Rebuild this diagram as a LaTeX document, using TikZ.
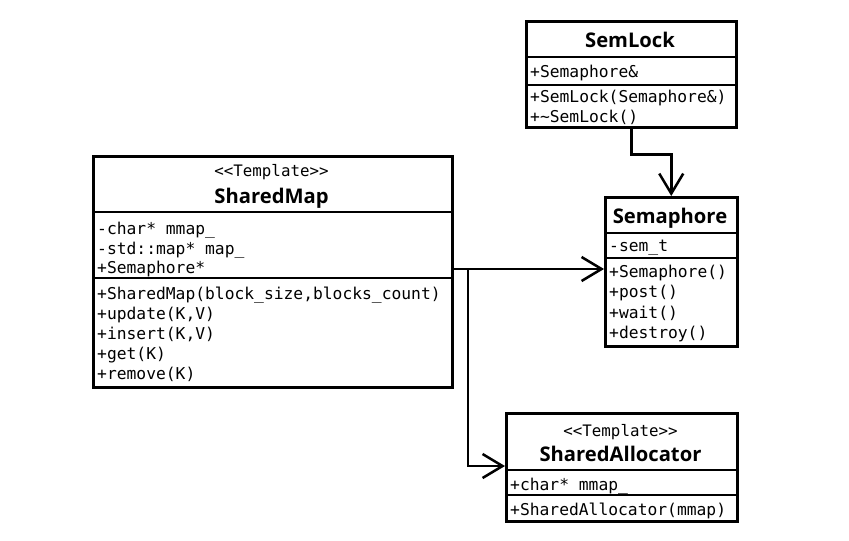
\documentclass[tikz,border=0pt]{standalone}
\usepackage{fontspec}
\setmainfont{Open Sans}
\newfontfamily\monof{DejaVu Sans Mono}
\newfontfamily\ttlf{Open Sans}
\usetikzlibrary{arrows.meta}
\tikzset{
  box/.style={draw, line width=2.5pt, rectangle, inner sep=0pt, anchor=north west},
  divider/.style={line width=2.5pt},
  mem/.style={anchor=base west, inner sep=0pt, font=\monof\fontsize{16.3}{18}\selectfont},
  ttl/.style={anchor=base, inner sep=0pt, font=\ttlf\bfseries\fontsize{20.2}{22}\selectfont},
  stereo/.style={anchor=base, inner sep=0pt, font=\monof\fontsize{15.8}{18}\selectfont},
  conn/.style={line width=2.5pt},
  arr/.style={line width=2.5pt, -{Straight Barb[length=20pt,width=24pt,line width=2.5pt]}},
}
\begin{document}
\begin{tikzpicture}[x=1pt,y=-1pt]
\useasboundingbox[fill=white] (0,0) rectangle (849,541);

% SemLock
\node[box, minimum width=210pt, minimum height=106pt] (semlock) at (525,20) {};
\draw[divider] (semlock.west |- 0,57) -- (semlock.east |- 0,57);
\draw[divider] (semlock.west |- 0,85) -- (semlock.east |- 0,85);
\node[ttl] (semlockT) at (630,47) {SemLock};
\node[mem] (semlockA) at (530,77) {+Semaphore\&};
\node[mem] (semlockM1) at (530,102) {+SemLock(Semaphore\&)};
\node[mem] (semlockM2) at (530,122) {+\textasciitilde SemLock()};

% Semaphore
\node[box, minimum width=132pt, minimum height=149pt] (semaphore) at (604,196) {};
\draw[divider] (semaphore.west |- 0,233) -- (semaphore.east |- 0,233);
\draw[divider] (semaphore.west |- 0,258) -- (semaphore.east |- 0,258);
\node[ttl] (semaphoreT) at (670,223) {Semaphore};
\node[mem] (semaphoreA) at (609,251) {-sem\_t};
\node[mem] (semaphoreM1) at (609,277) {+Semaphore()};
\node[mem] (semaphoreM2) at (609,297.5) {+post()};
\node[mem] (semaphoreM3) at (609,318) {+wait()};
\node[mem] (semaphoreM4) at (609,338) {+destroy()};

% SharedMap
\node[box, minimum width=359pt, minimum height=231pt] (sharedmap) at (92,155) {};
\draw[divider] (sharedmap.west |- 0,212) -- (sharedmap.east |- 0,212);
\draw[divider] (sharedmap.west |- 0,278) -- (sharedmap.east |- 0,278);
\node[stereo] (sharedmapS) at (271.5,176) {<\kern0pt<Template>\kern0pt>};
\node[ttl] (sharedmapT) at (271.5,203) {SharedMap};
\node[mem] (sharedmapA1) at (97,234) {-char* mmap\_};
\node[mem] (sharedmapA2) at (97,254) {-std::map* map\_};
\node[mem] (sharedmapA3) at (97,273) {+Semaphore*};
\node[mem] (sharedmapM1) at (97,299) {+SharedMap(block\_size,blocks\_count)};
\node[mem] (sharedmapM2) at (97,319) {+update(K,V)};
\node[mem] (sharedmapM3) at (97,339) {+insert(K,V)};
\node[mem] (sharedmapM4) at (97,359) {+get(K)};
\node[mem] (sharedmapM5) at (97,379) {+remove(K)};

% SharedAllocator
\node[box, minimum width=231pt, minimum height=108pt] (salloc) at (505,412) {};
\draw[divider] (salloc.west |- 0,470) -- (salloc.east |- 0,470);
\draw[divider] (salloc.west |- 0,495) -- (salloc.east |- 0,495);
\node[stereo] (sallocS) at (620.5,436) {<\kern0pt<Template>\kern0pt>};
\node[ttl] (sallocT) at (620.5,461) {SharedAllocator};
\node[mem] (sallocA) at (510,490) {+char* mmap\_};
\node[mem] (sallocM) at (510,515) {+SharedAllocator(mmap)};

% connectors
\coordinate (junc) at (468,269);
\coordinate (allocIn) at (505,466);
\draw[conn] (sharedmap.east |- junc) -- (junc);
\draw[arr] (junc) -- (semaphore.west |- junc);
\draw[arr] (junc) |- (allocIn);
\draw[arr] (semlock.south) -- ++(0,26) -| (semaphore.north);
\end{tikzpicture}
\end{document}
